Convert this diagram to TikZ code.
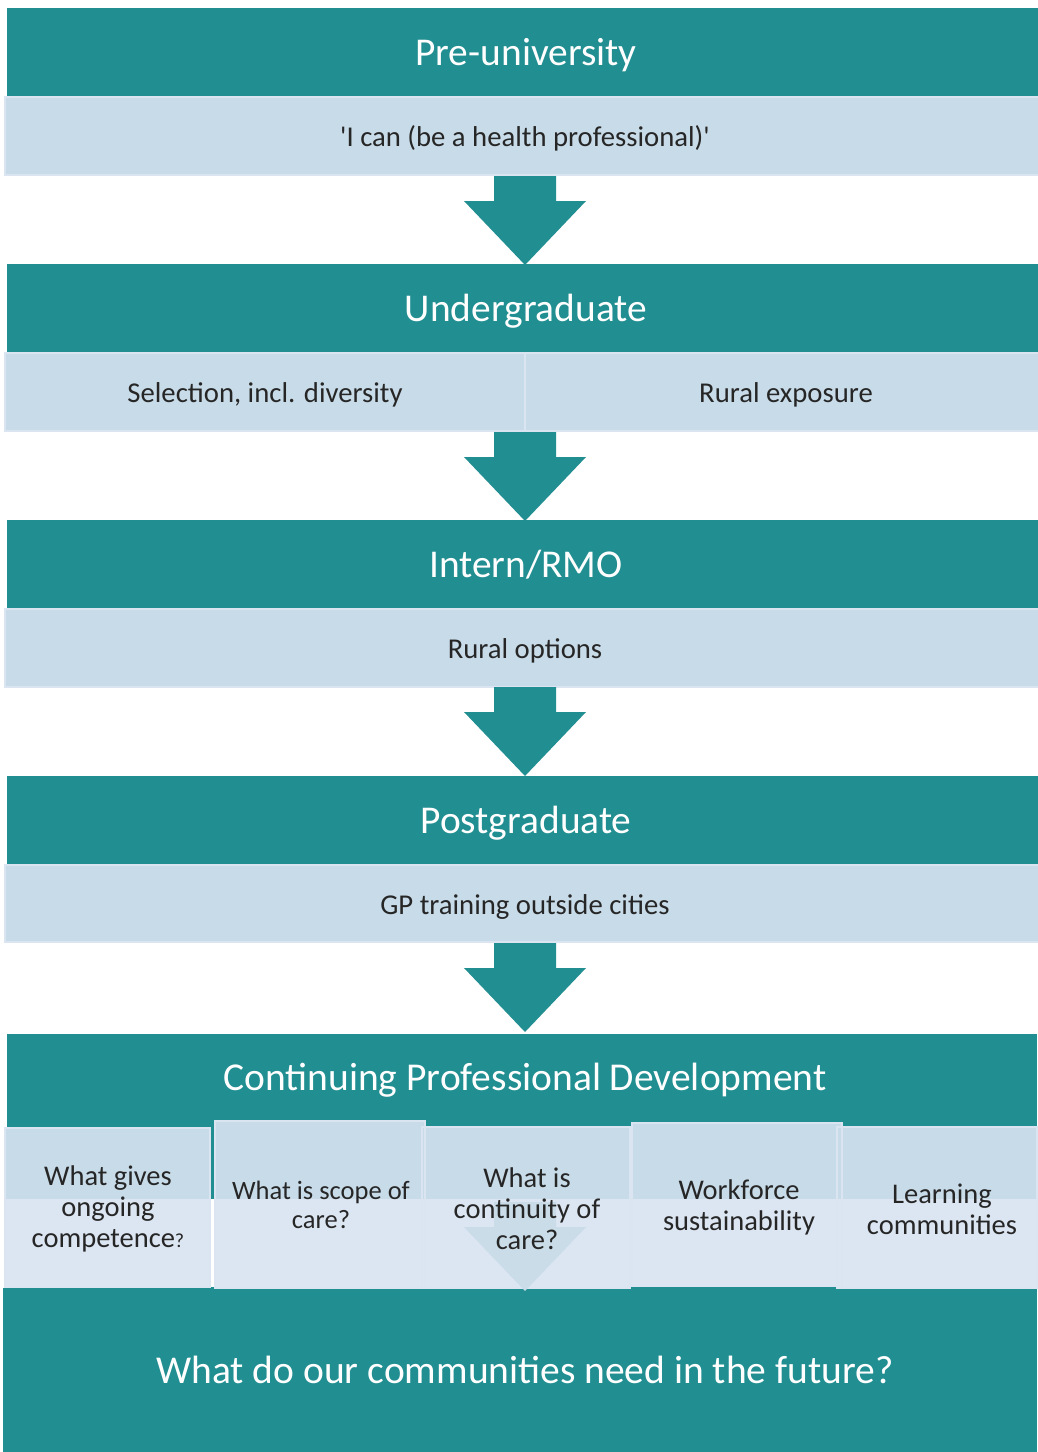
\documentclass[tikz,border=0pt]{standalone}
\usepackage{fontspec}
\setmainfont{Carlito}[Ligatures=TeXOff]
\usetikzlibrary{calc}

\definecolor{stageteal}{HTML}{218E91}
\definecolor{bandblue}{HTML}{C8DBE8}
\definecolor{bandedge}{HTML}{DAE5F1}
\definecolor{lowblue}{HTML}{DCE6F2}
\definecolor{faintarrow}{HTML}{C9DCE8}
\definecolor{inktext}{HTML}{262626}

\tikzset{
  headbox/.style={fill=stageteal, text=white, inner sep=0pt, outer sep=0pt,
    anchor=north west, minimum width=1038pt, minimum height=89pt,
    text height=32pt, text depth=6pt,
    font=\fontsize{39.4}{46}\selectfont},
  bandbox/.style={fill=bandblue, draw=bandedge, line width=1.5pt, text=inktext,
    inner sep=0pt, outer sep=0pt, anchor=north west, minimum height=78pt,
    text height=27pt, text depth=6pt,
    font=\fontsize{28.7}{34}\selectfont},
  cpdbox/.style={fill=bandblue, inner sep=0pt, outer sep=0pt, anchor=north west},
  boxedge/.style={draw=bandedge, line width=1.5pt},
  boxtext/.style={text=inktext, align=center, inner sep=0pt,
    font=\fontsize{28.5}{31}\selectfont},
  bigtext/.style={text=white, inner sep=0pt, font=\fontsize{39.5}{46}\selectfont},
  pics/blockarrow/.style={code={
    \fill[#1] (-31,0) -- (31,0) -- (31,25) -- (61,25) -- (0,89)
      -- (-61,25) -- (-31,25) -- cycle;}}
}

\begin{document}
\begin{tikzpicture}[x=1pt,y=-1pt]
\useasboundingbox[fill=white] (0,0) rectangle (1037,1452);

% Stage 1
\node[headbox] (h1) at (7,8) {Pre-university};
\node[bandbox, minimum width=1040pt] (s1) at (5,97) {'I can (be a health professional)'};
\pic at (525,176) {blockarrow=stageteal};

% Stage 2
\node[headbox] (h2) at (7,264) {Undergraduate};
\node[bandbox, minimum width=520pt] (s2a) at (5,353) {Selection, incl. diversity};
\node[bandbox, minimum width=522pt] (s2b) at (525,353) {Rural exposure};
\pic at (525,432) {blockarrow=stageteal};

% Stage 3
\node[headbox] (h3) at (7,520) {Intern/RMO};
\node[bandbox, minimum width=1040pt] (s3) at (5,609) {Rural options};
\pic at (525,687) {blockarrow=stageteal};

% Stage 4
\node[headbox] (h4) at (7,776) {Postgraduate};
\node[bandbox, minimum width=1040pt, minimum height=77pt] (s4) at (5,865) {GP training outside cities};
\pic at (525,943) {blockarrow=stageteal};

% Continuing professional development block
\fill[stageteal] (7,1034) rectangle (1037,1290);
\fill[stageteal] (3,1288) rectangle (1037,1452);
\node[bigtext] (cpd) at (525,1080) {Continuing Professional Development};
\node[bigtext] (future) at (525,1370) {What do our communities need in the future?};

% Question boxes: white strip behind, two-tone fill, borders, faint arrow, text
\fill[white] (5,1199) rectangle (1037,1287);
\node[cpdbox, minimum width=205pt, minimum height=159pt] (b1) at (5,1128) {};
\node[cpdbox, minimum width=210pt, minimum height=167pt] (b2) at (215,1121) {};
\node[cpdbox, minimum width=208pt, minimum height=161pt] (b3) at (422,1127) {};
\node[cpdbox, minimum width=210pt, minimum height=163pt] (b4) at (632,1123) {};
\node[cpdbox, minimum width=200pt, minimum height=161pt] (b5) at (837,1127) {};
\begin{scope}
  \clip (0,1199) rectangle (1037,1300);
  \foreach \b in {b1,b2,b3,b4,b5}
    \fill[lowblue] (\b.south west) rectangle (\b.north east);
\end{scope}
\foreach \b in {b1,b2,b3,b4,b5}
  \draw[boxedge] (\b.south west) rectangle (\b.north east);
\pic at (525,1202) {blockarrow=faintarrow};

\node[boxtext] (t1) at (108,1209) {What gives\\ongoing\\competence{\fontsize{20}{20}\selectfont ?}};
\node[boxtext, font=\fontsize{26.5}{29}\selectfont] (t2) at (321,1205) {What is scope of\\care?};
\node[boxtext] (t3) at (527,1209) {What is\\continuity of\\care?};
\node[boxtext] (t4) at (739,1207) {Workforce\\sustainability};
\node[boxtext] (t5) at (942,1209) {Learning\\communities};
\end{tikzpicture}
\end{document}
